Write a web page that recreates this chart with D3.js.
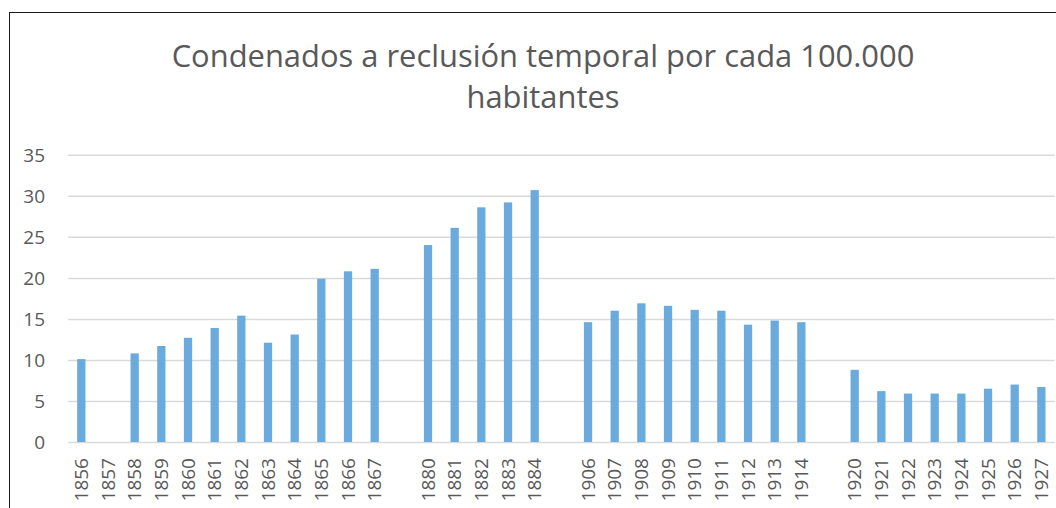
<!DOCTYPE html>
<html>
<head>
<meta charset="utf-8">
<script src="https://cdn.jsdelivr.net/npm/d3@7"></script>
<style>
  body { margin: 0; background: #fff; }
  svg text { font-family: "Open Sans", sans-serif; fill: #595959; }
</style>
</head>
<body>
<div class="chart"></div>
<script>
// categories ("" = empty slot between periods)
var years = ["1856","1857","1858","1859","1860","1861","1862","1863","1864","1865","1866","1867","",
             "1880","1881","1882","1883","1884","",
             "1906","1907","1908","1909","1910","1911","1912","1913","1914","",
             "1920","1921","1922","1923","1924","1925","1926","1927"];
var values = [10.1, null, 10.8, 11.7, 12.7, 13.9, 15.4, 12.1, 13.1, 19.9, 20.8, 21.1, null,
              24.0, 26.1, 28.6, 29.2, 30.7, null,
              14.6, 16.0, 16.9, 16.6, 16.1, 16.0, 14.3, 14.8, 14.6, null,
              8.8, 6.2, 5.9, 5.9, 5.9, 6.5, 7.0, 6.7];
var yTicks = [0, 5, 10, 15, 20, 25, 30, 35];
var titleLines = ["Condenados a reclusión temporal por cada 100.000", "habitantes"];

/*dimensions*/
var W = 1056, H = 508;
var plot = {left: 68, right: 1054.7, top: 154.8, bottom: 442};

var svg = d3.select(".chart").append("svg")
  .attr("width", W)
  .attr("height", H);

// chart area border (runs off the picture on the right and bottom)
svg.append("rect")
  .attr("x", 9.5).attr("y", 12.5)
  .attr("width", W + 20).attr("height", H + 20)
  .attr("fill", "white")
  .attr("stroke", "#1a1a1a")
  .attr("stroke-width", 1);

/*Scales*/
var xScale = d3.scaleBand()
  .domain(d3.range(years.length))
  .range([plot.left, plot.right])
  .paddingInner(0.69)
  .paddingOuter(0.345);

var yScale = d3.scaleLinear()
  .domain([0, 35])
  .range([plot.bottom, plot.top]);

// y axis + gridlines
var yAxis = d3.axisLeft(yScale)
  .tickValues(yTicks)
  .tickSizeInner(-(plot.right - plot.left))
  .tickSizeOuter(0)
  .tickPadding(23);

var gy = svg.append("g")
  .attr("class", "y-axis")
  .attr("transform", "translate(" + plot.left + ",0)")
  .call(yAxis);
gy.select(".domain").remove();
gy.selectAll(".tick line")
  .attr("stroke", "#d9d9d9")
  .attr("stroke-width", 1.5);
gy.selectAll(".tick text")
  .style("font-size", "19px")
  .attr("dy", "0.35em");

// bars
svg.append("g")
  .selectAll("rect")
  .data(values.map(function(v, i){ return {i: i, v: v}; }).filter(function(d){ return d.v != null; }))
  .enter().append("rect")
  .attr("x", function(d){ return xScale(d.i); })
  .attr("y", function(d){ return yScale(d.v); })
  .attr("width", xScale.bandwidth())
  .attr("height", function(d){ return yScale(0) - yScale(d.v); })
  .attr("fill", "#6aaadd");

// x axis labels
var xAxis = d3.axisBottom(xScale)
  .tickFormat(function(i){ return years[i]; })
  .tickSize(0)
  .tickPadding(0);

var gx = svg.append("g")
  .attr("class", "x-axis")
  .attr("transform", "translate(0," + plot.bottom + ")")
  .call(xAxis);
gx.select(".domain").remove();
gx.selectAll(".tick text")
  .style("font-size", "19px")
  .attr("text-anchor", "end")
  .attr("transform", "rotate(-90)")
  .attr("x", -16)
  .attr("y", 0)
  .attr("dy", "0.35em");

// title
var title = svg.append("g").attr("class", "title");
titleLines.forEach(function(t, i){
  title.append("text")
    .text(t)
    .attr("x", 543)
    .attr("y", 66.5 + i * 41.5)
    .attr("text-anchor", "middle")
    .style("font-size", "29px");
});
// fit the first line to the width seen in the picture
var first = title.select("text").node();
var fs = 29 * 743 / first.getComputedTextLength();
title.selectAll("text").style("font-size", fs + "px");
</script>
</body>
</html>
